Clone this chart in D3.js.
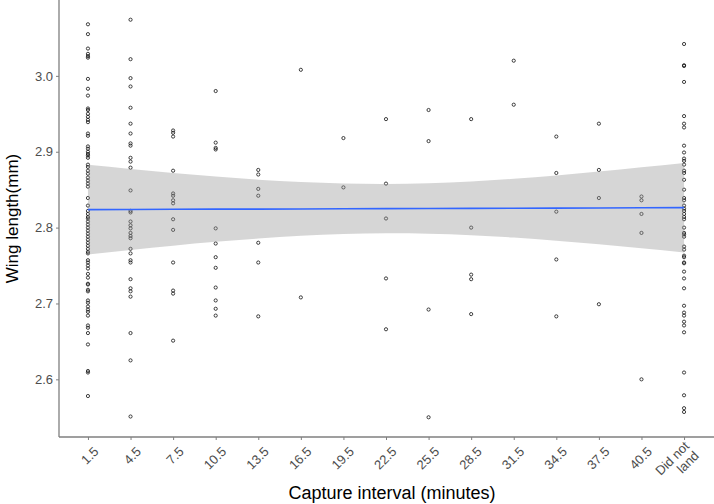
<!DOCTYPE html>
<html>
<head>
<meta charset="utf-8">
<script src="https://cdn.jsdelivr.net/npm/d3@7"></script>
<style>
  body { margin: 0; background: #fff; }
  svg { display: block; font-family: "Liberation Sans", Arial, Helvetica, sans-serif; }
</style>
</head>
<body>
<svg id="chart"></svg>
<script>
// categories on the x axis
const categories = ['1.5', '4.5', '7.5', '10.5', '13.5', '16.5', '19.5', '22.5',
  '25.5', '28.5', '31.5', '34.5', '37.5', '40.5', 'Did not land'];

// wing length (mm) observed in each capture interval
const wing_1_5 = [3.068, 3.055, 3.036, 3.029, 3.026, 3.024, 2.996, 2.983, 2.974, 2.957,
  2.955, 2.950, 2.946, 2.942, 2.939, 2.924, 2.921, 2.907, 2.904, 2.900, 2.897, 2.895,
  2.892, 2.883, 2.880, 2.875, 2.871, 2.866, 2.862, 2.858, 2.854, 2.839, 2.829, 2.822,
  2.818, 2.814, 2.812, 2.808, 2.804, 2.800, 2.796, 2.792, 2.788, 2.784, 2.780, 2.776,
  2.772, 2.768, 2.766, 2.757, 2.754, 2.750, 2.746, 2.739, 2.734, 2.726, 2.725, 2.718,
  2.716, 2.704, 2.701, 2.696, 2.692, 2.689, 2.684, 2.671, 2.668, 2.661, 2.646, 2.611,
  2.609, 2.578];
const wing_4_5 = [3.074, 3.022, 2.997, 2.986, 2.958, 2.937, 2.924, 2.911, 2.908, 2.892,
  2.887, 2.879, 2.849, 2.822, 2.820, 2.808, 2.803, 2.799, 2.793, 2.789, 2.786, 2.772,
  2.766, 2.757, 2.754, 2.732, 2.720, 2.716, 2.709, 2.661, 2.625, 2.551];
const wing_7_5 = [2.928, 2.925, 2.920, 2.875, 2.845, 2.842, 2.836, 2.832, 2.811, 2.797,
  2.754, 2.717, 2.713, 2.651];
const wing_10_5 = [2.980, 2.912, 2.905, 2.903, 2.799, 2.779, 2.761, 2.747, 2.721, 2.704,
  2.693, 2.684];
const wing_13_5 = [2.876, 2.870, 2.851, 2.842, 2.780, 2.754, 2.683];
const wing_16_5 = [3.008, 2.708];
const wing_19_5 = [2.918, 2.853];
const wing_22_5 = [2.943, 2.858, 2.812, 2.733, 2.666];
const wing_25_5 = [2.955, 2.914, 2.692, 2.550];
const wing_28_5 = [2.943, 2.800, 2.738, 2.732, 2.686];
const wing_31_5 = [3.020, 2.962];
const wing_34_5 = [2.920, 2.872, 2.821, 2.758, 2.683];
const wing_37_5 = [2.937, 2.876, 2.839, 2.699];
const wing_40_5 = [2.841, 2.836, 2.818, 2.793, 2.600];
const wing_dnl = [3.042, 3.014, 3.013, 2.992, 2.947, 2.937, 2.932, 2.908, 2.899, 2.891,
  2.888, 2.883, 2.875, 2.872, 2.863, 2.850, 2.839, 2.836, 2.829, 2.825, 2.822, 2.818,
  2.814, 2.811, 2.800, 2.793, 2.791, 2.788, 2.775, 2.771, 2.763, 2.761, 2.754, 2.753,
  2.742, 2.733, 2.720, 2.697, 2.688, 2.684, 2.676, 2.671, 2.662, 2.609, 2.579, 2.562,
  2.557];

const wingByCategory = [wing_1_5, wing_4_5, wing_7_5, wing_10_5, wing_13_5, wing_16_5,
  wing_19_5, wing_22_5, wing_25_5, wing_28_5, wing_31_5, wing_34_5, wing_37_5,
  wing_40_5, wing_dnl];

// linear fit and its confidence band, read at each category
const fitValues = [2.8237, 2.8239, 2.8241, 2.8243, 2.8244, 2.8246, 2.8248, 2.8250,
  2.8252, 2.8254, 2.8256, 2.8257, 2.8259, 2.8261, 2.8263];
const bandLow = [2.7647, 2.7706, 2.7762, 2.7813, 2.7856, 2.7892, 2.7915, 2.7925,
  2.7919, 2.7900, 2.7868, 2.7827, 2.7780, 2.7728, 2.7673];
const bandHigh = [2.8827, 2.8772, 2.8720, 2.8673, 2.8632, 2.8600, 2.8581, 2.8575,
  2.8585, 2.8608, 2.8644, 2.8687, 2.8738, 2.8794, 2.8853];

const yTicks = [2.6, 2.7, 2.8, 2.9, 3.0];

const width = 714, height = 504;
const margin = { top: 0, right: 1, bottom: 67, left: 59 };

const svg = d3.select('#chart').attr('width', width).attr('height', height);

const x = d3.scalePoint()
  .domain(categories)
  .range([margin.left, width - margin.right])
  .padding(0.68);

const y = d3.scaleLinear()
  .domain([2.524, 3.100])
  .range([height - margin.bottom, margin.top]);

// points
const points = [];
wingByCategory.forEach((vals, i) => {
  vals.forEach(v => points.push({ cat: categories[i], value: v }));
});

svg.append('g')
  .selectAll('circle')
  .data(points)
  .join('circle')
  .attr('cx', d => x(d.cat))
  .attr('cy', d => y(d.value))
  .attr('r', 1.6)
  .attr('fill', 'none')
  .attr('stroke', '#111')
  .attr('stroke-width', 0.8);

// confidence band + fit
const bandData = categories.map((c, i) => ({ cat: c, lo: bandLow[i], hi: bandHigh[i], fit: fitValues[i] }));

svg.append('path')
  .datum(bandData)
  .attr('fill', '#999999')
  .attr('fill-opacity', 0.4)
  .attr('d', d3.area()
    .curve(d3.curveNatural)
    .x(d => x(d.cat))
    .y0(d => y(d.lo))
    .y1(d => y(d.hi)));

svg.append('path')
  .datum(bandData)
  .attr('fill', 'none')
  .attr('stroke', '#3366FF')
  .attr('stroke-width', 1.6)
  .attr('d', d3.line()
    .x(d => x(d.cat))
    .y(d => y(d.fit)));

// axes
const axisColor = '#7f7f7f';
const yAxis = svg.append('g')
  .attr('transform', `translate(${margin.left},0)`)
  .call(d3.axisLeft(y).tickValues(yTicks).tickFormat(d3.format('.1f')).tickSize(3).tickPadding(3));
const xAxis = svg.append('g')
  .attr('transform', `translate(0,${height - margin.bottom})`)
  .call(d3.axisBottom(x).tickSize(3).tickFormat(''));

[yAxis, xAxis].forEach(g => {
  g.select('.domain').attr('stroke', axisColor).attr('stroke-width', 1.3);
  g.selectAll('.tick line').attr('stroke', axisColor).attr('stroke-width', 1);
});
yAxis.selectAll('.tick text').attr('fill', '#4d4d4d').style('font-size', '13px');
yAxis.select('.domain').attr('d', `M0,${y.range()[1]}V${y.range()[0]}`);
xAxis.select('.domain').attr('d', `M${margin.left},0H${width}`);

// rotated x labels
const xLabels = svg.append('g');
categories.forEach(c => {
  const lines = c === 'Did not land' ? ['Did not', 'land'] : [c];
  const t = xLabels.append('text')
    .attr('transform', `translate(${x(c) + 5},${height - margin.bottom + 9}) rotate(-45)`)
    .attr('text-anchor', 'end')
    .attr('fill', '#4d4d4d')
    .style('font-size', '13px');
  lines.forEach((l, i) => {
    t.append('tspan')
      .attr('x', 0)
      .attr('dy', i === 0 ? (lines.length > 1 ? '0.1em' : '0.7em') : '1.05em')
      .text(l);
  });
});

// axis titles
svg.append('text')
  .attr('x', 392)
  .attr('y', 499)
  .attr('text-anchor', 'middle')
  .style('font-size', '18px')
  .attr('fill', '#000')
  .text('Capture interval (minutes)');

svg.append('text')
  .attr('transform', `translate(18,${(height - margin.bottom) / 2}) rotate(-90)`)
  .attr('text-anchor', 'middle')
  .style('font-size', '17px')
  .attr('fill', '#000')
  .text('Wing length(mm)');
</script>
</body>
</html>
